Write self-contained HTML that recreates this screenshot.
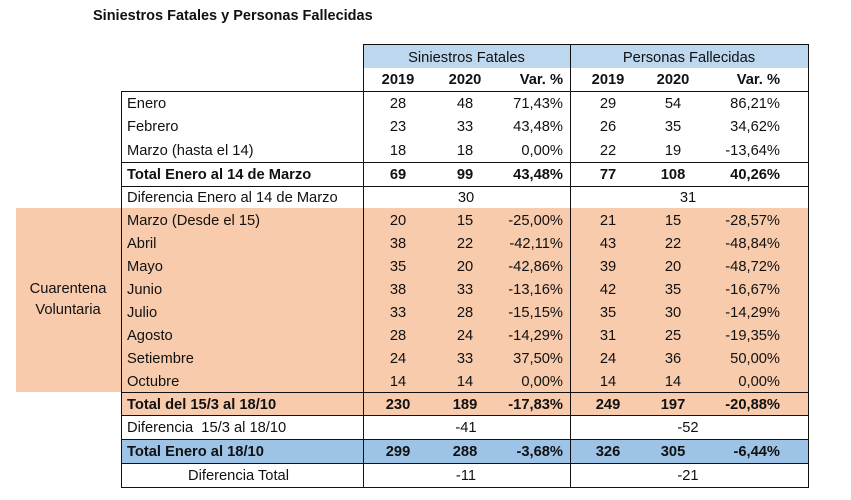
<!DOCTYPE html>
<html><head><meta charset="utf-8"><style>
body{margin:0;width:851px;height:500px;background:#fff;position:relative;overflow:hidden;font-family:"Liberation Sans",Arial,sans-serif;font-size:14.7px;color:#111}
div{position:absolute}
.t{height:23px;line-height:24px;white-space:nowrap}
.c{text-align:center;width:60px}
.r{text-align:right;width:80px}
.b{font-weight:bold}
.hl{height:1px;background:#111}
.vl{width:1px;background:#111}
</style></head><body>
<div class="t b" style="left:93px;top:4px;font-size:14.5px">Siniestros Fatales y Personas Fallecidas</div>
<div style="left:363px;top:44px;width:445px;height:24px;background:#bdd7ee"></div>
<div style="left:16px;top:208px;width:792px;height:184px;background:#f8cbad"></div>
<div style="left:121px;top:392px;width:687px;height:23px;background:#f8cbad"></div>
<div style="left:121px;top:439px;width:687px;height:24px;background:#9dc3e6"></div>
<div class="hl" style="left:363px;top:44px;width:445px"></div>
<div class="hl" style="left:121px;top:91px;width:687px"></div>
<div class="hl" style="left:121px;top:162px;width:687px"></div>
<div class="hl" style="left:121px;top:186px;width:687px"></div>
<div class="hl" style="left:121px;top:392px;width:687px"></div>
<div class="hl" style="left:121px;top:415px;width:687px"></div>
<div class="hl" style="left:121px;top:439px;width:687px"></div>
<div class="hl" style="left:121px;top:463px;width:687px"></div>
<div class="hl" style="left:121px;top:487px;width:687px"></div>
<div class="vl" style="left:121px;top:91px;height:397px"></div>
<div class="vl" style="left:363px;top:44px;height:444px"></div>
<div class="vl" style="left:570px;top:44px;height:444px"></div>
<div class="vl" style="left:808px;top:44px;height:444px"></div>
<div class="t" style="left:363px;top:46px;width:207px;text-align:center">Siniestros Fatales</div>
<div class="t" style="left:570px;top:46px;width:238px;text-align:center">Personas Fallecidas</div>
<div class="t" style="left:0;top:279px;width:136px;text-align:center;line-height:21px">Cuarentena<br>Voluntaria</div>
<div id="rows"></div>
<script>
var R=[
[68,"",["2019","2020","Var. %","2019","2020","Var. %"],1],
[91.5,"Enero",["28","48","71,43%","29","54","86,21%"]],
[115,"Febrero",["23","33","43,48%","26","35","34,62%"]],
[138.5,"Marzo (hasta el 14)",["18","18","0,00%","22","19","-13,64%"]],
[162.5,"Total Enero al 14 de Marzo",["69","99","43,48%","77","108","40,26%"],1],
[186,"Diferencia Enero al 14 de Marzo",["","30","","","31",""]],
[209,"Marzo (Desde el 15)",["20","15","-25,00%","21","15","-28,57%"]],
[232,"Abril",["38","22","-42,11%","43","22","-48,84%"]],
[255,"Mayo",["35","20","-42,86%","39","20","-48,72%"]],
[278,"Junio",["38","33","-13,16%","42","35","-16,67%"]],
[301,"Julio",["33","28","-15,15%","35","30","-14,29%"]],
[324,"Agosto",["28","24","-14,29%","31","25","-19,35%"]],
[347,"Setiembre",["24","33","37,50%","24","36","50,00%"]],
[370,"Octubre",["14","14","0,00%","14","14","0,00%"]],
[393,"Total del 15/3 al 18/10",["230","189","-17,83%","249","197","-20,88%"],1],
[416,"Diferencia&nbsp; 15/3 al 18/10",["","-41","","","-52",""]],
[440,"Total Enero al 18/10",["299","288","-3,68%","326","305","-6,44%"],1],
[464,"Diferencia Total",["","-11","","","-21",""],0,1]
];
var X=[398,465,563,608,673,780],h="";
R.forEach(function(r){var b=r[3]?" b":"";
 if(r[1])h+='<div class="t'+b+'" style="left:'+(r[4]?188:127)+'px;top:'+r[0]+'px">'+r[1]+'</div>';
 r[2].forEach(function(v,i){if(!v)return;
  if(i==2||i==5)h+='<div class="t r'+b+'" style="left:'+(X[i]-80)+'px;top:'+r[0]+'px">'+v+'</div>';
  else{var cx=X[i];if(!r[2][0]&&i==1)cx=466;if(!r[2][0]&&i==4)cx=688;
   h+='<div class="t c'+b+'" style="left:'+(cx-30)+'px;top:'+r[0]+'px">'+v+'</div>';}
 });
});
document.getElementById("rows").outerHTML=h;
</script>
</body></html>
